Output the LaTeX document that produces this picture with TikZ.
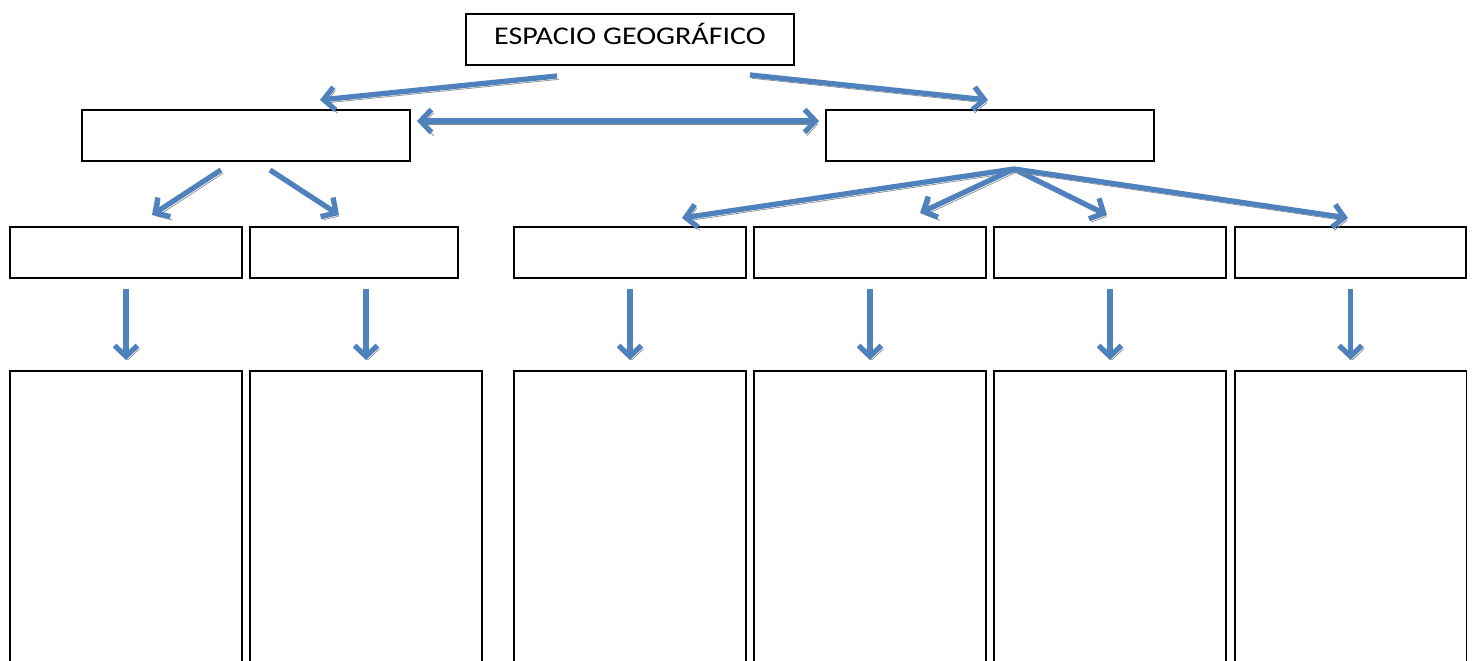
\documentclass[tikz,border=0pt]{standalone}
\usepackage{fontspec}
\setmainfont{Carlito}
\newfontfamily\titulofont[FakeStretch=1.18]{Carlito}
\usetikzlibrary{arrows.meta}

\definecolor{flecha}{HTML}{4F81BD}
\definecolor{sombra}{HTML}{8C8C8C}

\begin{document}
\begin{tikzpicture}[x=0.02cm, y=-0.02cm,
    caja/.style={draw, line width=1.1pt, inner sep=0pt, minimum height=1.02cm},
    punta/.tip={Straight Barb[length=6.2pt, width=13pt]},
    flechita/.style={draw=flecha, line width=3pt, -punta,
        preaction={draw=sombra, transform canvas={shift={(1.2pt,-1.9pt)}}}}]
    \useasboundingbox (0,0) rectangle (1474,661);
    \clip (0,0) rectangle (1474,661);

    % Titulo
    \node[caja, minimum width=6.56cm, text height=0.4cm, text depth=0.18cm] (titulo) at (630,39.5)
        {\titulofont\fontsize{14.5}{18}\selectfont ESPACIO GEOGR\'AFICO};

    % Segundo nivel
    \node[caja, minimum width=6.56cm] (izq) at (246,135.5) {};
    \node[caja, minimum width=6.56cm] (der) at (990,135.5) {};

    % Tercer nivel
    \foreach \n/\x/\w in {a/126/4.64, b/354/4.16, c/630/4.64, d/870/4.64, e/1110/4.64, f/1350.5/4.62}
        \node[caja, minimum width=\w cm] (\n3) at (\x,252.5) {};

    % Cuarto nivel (cortado abajo)
    \foreach \n/\x in {a/126, b/366, c/630, d/870, e/1110, f/1350.5}
        \node[caja, minimum width=4.64cm, minimum height=6.58cm] (\n4) at (\x,535.5) {};

    % Puntos de las flechas
    \coordinate (t1) at (557,76);
    \coordinate (t2) at (750,75);
    \coordinate (i1) at (320,100);
    \coordinate (d1) at (988,100);
    \coordinate (ia) at (221,170);
    \coordinate (ib) at (270,170);
    \coordinate (pa) at (152,215);
    \coordinate (pb) at (339,215);
    \coordinate (abanico) at (1014,169);
    \coordinate (pc) at (682,218);
    \coordinate (pd) at (920,213);
    \coordinate (pe) at (1107,215);
    \coordinate (pf) at (1348,218);

    % Flechas
    \draw[flechita] (t1) -- (i1);
    \draw[flechita] (t2) -- (d1);
    \draw[flechita, punta-punta, shorten <=0.12cm, shorten >=0.12cm]
        ([yshift=0.29cm]izq.east) -- ([yshift=0.29cm]der.west);
    \draw[flechita] (ia) -- (pa);
    \draw[flechita] (ib) -- (pb);
    \foreach \p in {pc,pd,pe,pf}
        \draw[flechita] (abanico) -- (\p);
    \foreach \n in {a,...,f}
        \draw[flechita, shorten <=0.2cm, shorten >=0.2cm] (\n4.north |- \n3.south) -- (\n4.north);
\end{tikzpicture}
\end{document}
